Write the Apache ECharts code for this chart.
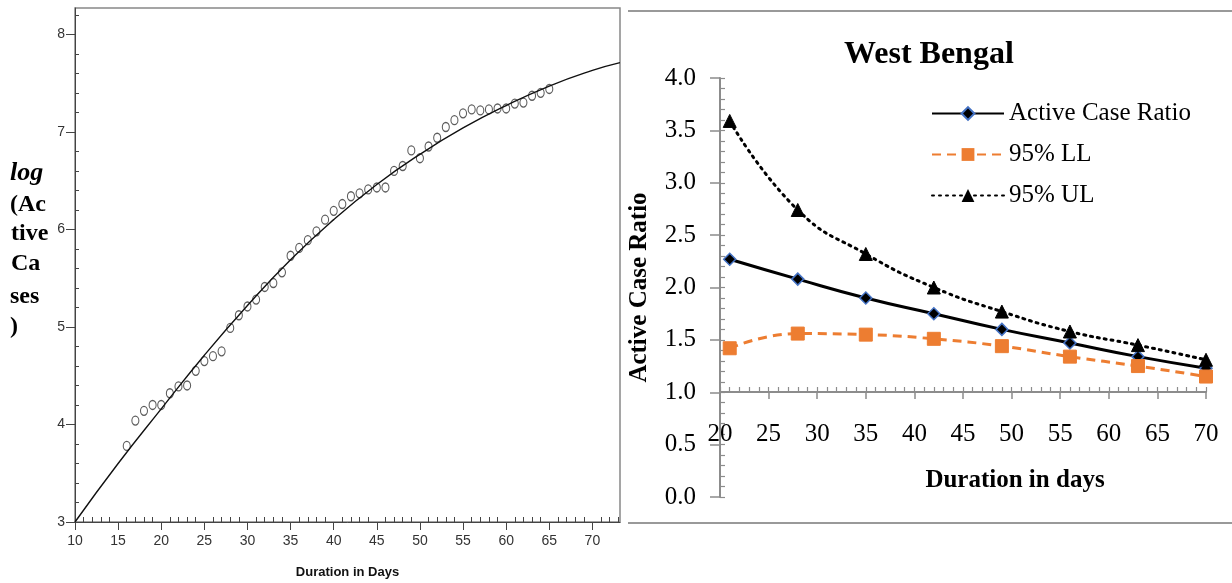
<!DOCTYPE html>
<html>
<head>
<meta charset="utf-8">
<script src="https://cdn.jsdelivr.net/npm/echarts@6/dist/echarts.min.js"></script>
<style>html,body{margin:0;padding:0;background:#fff;}#c{width:1232px;height:583px;}</style>
</head>
<body>
<div id="c"></div>
<script>
// ---- Left panel: observed log(active cases) and fitted curve ----
const obsDays = [16,17,18,19,20,21,22,23,24,25,26,27,28,29,30,31,32,33,34,35,36,37,38,39,40,41,42,43,44,45,46,47,48,49,50,51,52,53,54,55,56,57,58,59,60,61,62,63,64,65];
const obsLog  = [3.78,4.04,4.14,4.20,4.20,4.32,4.39,4.40,4.55,4.65,4.70,4.75,4.99,5.12,5.21,5.28,5.41,5.45,5.56,5.73,5.81,5.89,5.98,6.10,6.19,6.26,6.34,6.37,6.41,6.43,6.43,6.60,6.65,6.81,6.73,6.85,6.94,7.05,7.12,7.19,7.23,7.22,7.23,7.24,7.24,7.29,7.30,7.37,7.40,7.44];
const fitDays = [10,15,20,25,30,35,40,45,50,55,60,65,70,73.2];
const fitLog  = [3.00,3.60,4.16,4.71,5.22,5.69,6.10,6.46,6.77,7.04,7.27,7.47,7.63,7.71];
const leftXTicks = [10,15,20,25,30,35,40,45,50,55,60,65,70];
const leftYTicks = [3,4,5,6,7,8];

// ---- Right panel: West Bengal active case ratio ----
const wbDays  = [21,28,35,42,49,56,63,70];
const wbRatio = [2.27,2.08,1.90,1.75,1.60,1.47,1.34,1.23];
const wbLL    = [1.42,1.56,1.55,1.51,1.44,1.34,1.25,1.15];
const wbUL    = [3.59,2.74,2.32,2.00,1.77,1.58,1.45,1.31];
const seriesNames = ['Active Case Ratio','95% LL','95% UL'];

const leftXMinor = [];
for (let d = 11; d <= 73; d++) if (d % 5 !== 0) leftXMinor.push(d);
const leftYMinor = [];
for (let k = 16; k <= 41; k++) if (k % 5 !== 0) leftYMinor.push(+(k * 0.2).toFixed(1));

const SERIF = '"Liberation Serif","Times New Roman",serif';
const NARROW = '"Liberation Sans Narrow","Arial Narrow","Liberation Sans",sans-serif';
const SANS = '"Liberation Sans",Arial,sans-serif';

const pairs = (xs, ys) => xs.map((x, i) => [x, ys[i]]);

const chart = echarts.init(document.getElementById('c'), null, {renderer: 'canvas'});
chart.setOption({
  backgroundColor: '#fff',
  animation: false,
  title: {
    text: 'West Bengal', left: 839, top: 34,
    textStyle: {fontFamily: SERIF, fontWeight: 'bold', fontSize: 32, color: '#000'}
  },
  legend: {
    data: seriesNames, orient: 'vertical', left: 926, top: 96,
    itemWidth: 72, itemHeight: 16, itemGap: 16,
    textStyle: {fontFamily: SERIF, fontSize: 25, color: '#000'}
  },
  grid: [
    {left: 75, top: 8, width: 545, height: 514, outerBoundsMode: 'none', containLabel: false,
     show: true, borderColor: '#888', borderWidth: 1.5, backgroundColor: 'transparent'},
    {left: 720, top: 78, width: 486, height: 419, outerBoundsMode: 'none', containLabel: false}
  ],
  xAxis: [
    {gridIndex: 0, type: 'value', position: 'bottom', min: 10, max: 73.2, splitLine: {show: false},
     axisLine: {onZero: false, lineStyle: {color: '#444', width: 1}},
     axisTick: {customValues: leftXTicks, length: 8, lineStyle: {color: '#444'}},
     axisLabel: {customValues: leftXTicks, fontFamily: NARROW, fontSize: 14, color: '#333', margin: 12},
     name: 'Duration in Days', nameLocation: 'middle', nameGap: 44,
     nameTextStyle: {fontFamily: SANS, fontWeight: 'bold', fontSize: 13, color: '#111'}},
    {gridIndex: 0, type: 'value', position: 'bottom', min: 10, max: 73.2, splitLine: {show: false},
     axisLine: {show: false, onZero: false},
     axisTick: {customValues: leftXMinor, inside: true, length: 5, lineStyle: {color: '#444'}},
     axisLabel: {show: false}},
    {gridIndex: 1, type: 'value', position: 'bottom', min: 20, max: 70, interval: 5, offset: -105, splitLine: {show: false},
     axisLine: {onZero: false, lineStyle: {color: '#8c8c8c', width: 2}},
     axisTick: {length: 7, lineStyle: {color: '#8c8c8c', width: 1.5}},
     axisLabel: {fontFamily: SERIF, fontSize: 25, color: '#000', margin: 30},
     name: 'Duration in days', nameLocation: 'middle', nameGap: 76,
     nameTextStyle: {fontFamily: SERIF, fontWeight: 'bold', fontSize: 25, color: '#000', padding: [0, 0, 0, 104]}},
    {gridIndex: 1, type: 'value', position: 'bottom', min: 20, max: 70, interval: 1, offset: -105, splitLine: {show: false},
     axisLine: {show: false, onZero: false},
     axisTick: {inside: true, length: 5, lineStyle: {color: '#8c8c8c', width: 1.2}},
     axisLabel: {show: false}}
  ],
  yAxis: [
    {gridIndex: 0, type: 'value', position: 'left', min: 3, max: 8.27, splitLine: {show: false},
     axisLine: {onZero: false, lineStyle: {color: '#444', width: 1}},
     axisTick: {customValues: leftYTicks, length: 9, lineStyle: {color: '#444'}},
     axisLabel: {customValues: leftYTicks, fontFamily: NARROW, fontSize: 14, color: '#333', margin: 10}},
    {gridIndex: 0, type: 'value', position: 'left', min: 3, max: 8.27, splitLine: {show: false},
     axisLine: {show: false, onZero: false},
     axisTick: {customValues: leftYMinor, inside: true, length: 4, lineStyle: {color: '#444'}},
     axisLabel: {show: false}},
    {gridIndex: 1, type: 'value', position: 'left', min: 0, max: 4, interval: 0.5, splitLine: {show: false},
     axisLine: {onZero: false, lineStyle: {color: '#8c8c8c', width: 2}},
     axisTick: {length: 10, lineStyle: {color: '#8c8c8c', width: 1.5}},
     axisLabel: {fontFamily: SERIF, fontSize: 25, color: '#000', margin: 24, formatter: v => v.toFixed(1)},
     name: 'Active Case Ratio', nameLocation: 'middle', nameGap: 68,
     nameTextStyle: {fontFamily: SERIF, fontWeight: 'bold', fontSize: 25, color: '#000'}},
    {gridIndex: 1, type: 'value', position: 'left', min: 0, max: 4, interval: 0.1, splitLine: {show: false},
     axisLine: {show: false, onZero: false},
     axisTick: {inside: true, length: 5, lineStyle: {color: '#8c8c8c', width: 1.2}},
     axisLabel: {show: false}}
  ],
  graphic: [
    {type: 'line', shape: {x1: 628, y1: 11, x2: 1232, y2: 11}, style: {stroke: '#999', lineWidth: 2}},
    {type: 'line', shape: {x1: 628, y1: 523, x2: 1232, y2: 523}, style: {stroke: '#999', lineWidth: 2}},
    {type: 'text', x: 10, y: 173, style: {text: 'log', font: 'italic bold 26px "Liberation Serif"', fill: '#000', verticalAlign: 'middle'}},
    {type: 'text', x: 10, y: 205, style: {text: '(Ac', font: 'bold 24px "Liberation Serif"', fill: '#000', verticalAlign: 'middle'}},
    {type: 'text', x: 11, y: 234, style: {text: 'tive', font: 'bold 24px "Liberation Serif"', fill: '#000', verticalAlign: 'middle'}},
    {type: 'text', x: 11, y: 264, style: {text: 'Ca', font: 'bold 24px "Liberation Serif"', fill: '#000', verticalAlign: 'middle'}},
    {type: 'text', x: 10, y: 297, style: {text: 'ses', font: 'bold 24px "Liberation Serif"', fill: '#000', verticalAlign: 'middle'}},
    {type: 'text', x: 10, y: 327, style: {text: ')', font: 'bold 24px "Liberation Serif"', fill: '#000', verticalAlign: 'middle'}}
  ],
  series: [
    {type: 'line', name: 'fit', xAxisIndex: 0, yAxisIndex: 0, data: pairs(fitDays, fitLog),
     smooth: true, showSymbol: false, lineStyle: {color: '#111', width: 1.4}, clip: true, silent: true},
    {type: 'scatter', name: 'observed', xAxisIndex: 0, yAxisIndex: 0, data: pairs(obsDays, obsLog),
     symbol: 'circle', symbolSize: [7, 9],
     itemStyle: {color: 'rgba(255,255,255,0)', borderColor: '#333', borderWidth: 1.2}},
    {type: 'line', name: seriesNames[0], xAxisIndex: 2, yAxisIndex: 2, data: pairs(wbDays, wbRatio),
     smooth: true, clip: false, symbol: 'diamond', symbolSize: 12,
     lineStyle: {color: '#000', width: 3},
     itemStyle: {color: '#000', borderColor: '#4472C4', borderWidth: 1.5}},
    {type: 'line', name: seriesNames[1], xAxisIndex: 2, yAxisIndex: 2, data: pairs(wbDays, wbLL),
     smooth: true, clip: false, symbol: 'rect', symbolSize: 13,
     lineStyle: {color: '#ED7D31', width: 3, type: [9, 6]},
     itemStyle: {color: '#ED7D31', borderColor: '#ED7D31'}},
    {type: 'line', name: seriesNames[2], xAxisIndex: 2, yAxisIndex: 2, data: pairs(wbDays, wbUL),
     smooth: true, clip: false, symbol: 'triangle', symbolSize: 13,
     lineStyle: {color: '#000', width: 3, type: [2, 5], cap: 'round'},
     itemStyle: {color: '#000', borderColor: '#000'}}
  ]
});
</script>
</body>
</html>
